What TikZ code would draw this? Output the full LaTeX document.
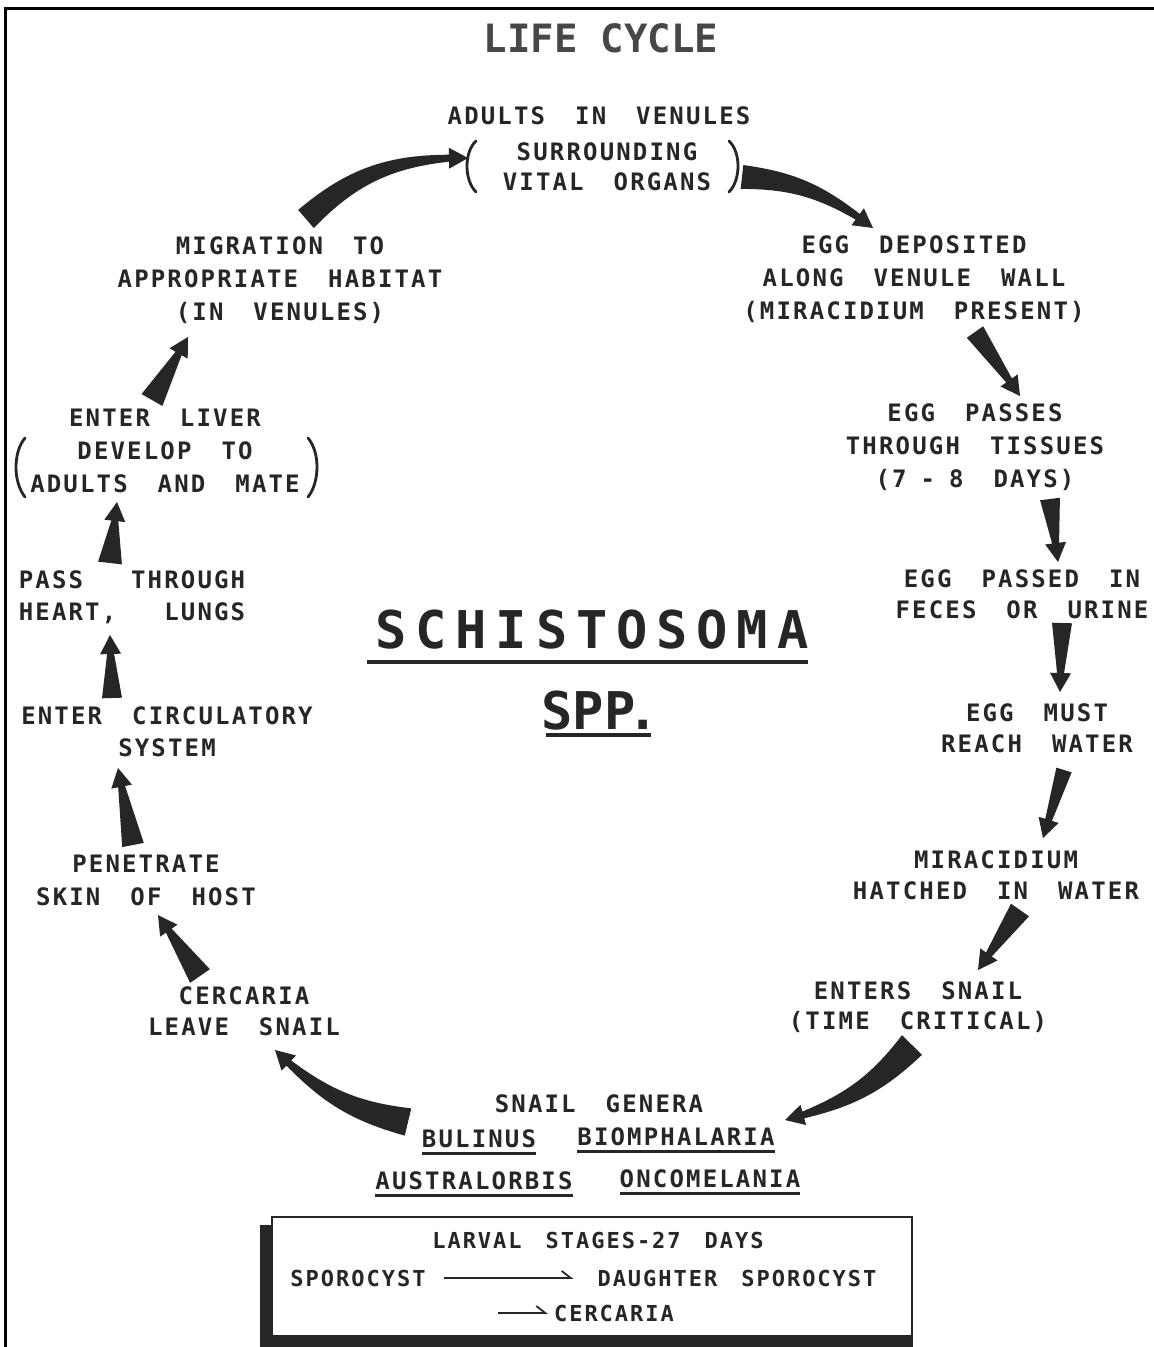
\documentclass[tikz,border=0pt]{standalone}
\usepackage{fontspec}
\usetikzlibrary{calc,arrows.meta}
\newfontfamily\lblfont[LetterSpace=9]{DejaVu Sans Mono}
\newfontfamily\titlefont{DejaVu Sans Mono}
\newfontfamily\bigfont[LetterSpace=17]{DejaVu Sans Mono}
\definecolor{ink}{HTML}{262626}
\tikzset{
  lbl/.style={align=center, inner sep=0pt, text=ink,
    font={\lblfont\bfseries\fontsize{24}{#1}\selectfont\spaceskip=30pt\relax}},
  lbl/.default=32,
  boxlbl/.style={inner sep=0pt, text=ink,
    font={\lblfont\bfseries\fontsize{22}{28}\selectfont\spaceskip=24pt\relax}},
  titlelbl/.style={inner sep=0pt, text=ink!85, font={\titlefont\bfseries\fontsize{39}{44}\selectfont}},
  biglbl/.style={inner sep=0pt, text=ink, font={\bigfont\bfseries\fontsize{52}{60}\selectfont}},
  spplbl/.style={inner sep=0pt, text=ink, font={\titlefont\bfseries\fontsize{52}{60}\selectfont}},
  uline/.style={draw=ink, line width=3pt},
  paren/.style={draw=ink, line width=2.8pt, line cap=round},
  harp/.style={draw=ink, line width=1.8pt, -{Straight Barb[harpoon,length=9pt,width=14pt]}},
}
\newcommand\fatarrow[4][0]{%
  \pgfmathsetmacro\faL{#1+90}%
  \pgfmathsetmacro\faR{#1-90}%
  \pgfmathsetmacro\faB{-#1}%
  \coordinate (fan) at ($(#3)!19pt!\faB:(#2)$);
  \fill[ink] ($(#2)!#4pt!\faL:(#3)$) to[bend left=#1] ($(fan)!3.5pt!90:(#3)$)
     -- ($(fan)!10.5pt!90:(#3)$) -- (#3) -- ($(fan)!10.5pt!-90:(#3)$)
     -- ($(fan)!3.5pt!-90:(#3)$) to[bend right=#1] ($(#2)!#4pt!\faR:(#3)$) -- cycle;
}
\begin{document}
\begin{tikzpicture}[x=1pt,y=-1pt]
\useasboundingbox (0,0) rectangle (1154,1347);
\fill[white] (0,0) rectangle (1154,1347);
% frame
\draw[line width=3pt, black] (5.5,1347) -- (5.5,8.5) -- (1154,8.5);

% titles
\node[titlelbl] (title) at (601,38) {LIFE CYCLE};
\node[biglbl] (schisto) at (592,630) {SCHISTOSOMA};
\draw[uline, line width=4pt] (367,662) -- (808,662);
\node[spplbl] (spp) at (600,711) {SPP\kern-8pt.};
\draw[uline, line width=4pt] (546,735) -- (651,735);

% cycle labels
\node[lbl] (adults) at (599,116) {ADULTS IN VENULES};
\node[lbl=30] (organs) at (607,167) {SURROUNDING\\VITAL ORGANS};
\draw[paren] (476,141) .. controls (464,152) and (464,180) .. (476,192);
\draw[paren] (729,141) .. controls (741,152) and (741,180) .. (729,192);
\node[lbl=33] (deposit) at (914,279) {EGG DEPOSITED\\ALONG VENULE WALL\\(MIRACIDIUM PRESENT)};
\node[lbl=33] (tissues) at (975,447) {EGG PASSES\\THROUGH TISSUES\\(7\hspace{14pt}-\hspace{14pt}8 DAYS)};
\node[lbl=31] (feces) at (1022,594) {EGG PASSED IN\\FECES OR URINE};
\node[lbl=31] (water) at (1037,728) {EGG MUST\\REACH WATER};
\node[lbl=31] (hatch) at (996,875) {MIRACIDIUM\\HATCHED IN WATER};
\node[lbl=30] (snail) at (918,1007) {ENTERS SNAIL\\(TIME CRITICAL)};
\node[lbl] (genera) at (599,1104) {SNAIL GENERA};
\node[lbl] (bul) at (479,1139) {BULINUS};
\node[lbl] (bio) at (676,1137) {BIOMPHALARIA};
\node[lbl] (aus) at (474,1181) {AUSTRALORBIS};
\node[lbl] (onc) at (710,1179) {ONCOMELANIA};
\draw[uline] ([yshift=-5pt]bul.south west) -- ([yshift=-5pt]bul.south east);
\draw[uline] ([yshift=-5pt]bio.south west) -- ([yshift=-5pt]bio.south east);
\draw[uline] ([yshift=-5pt]aus.south west) -- ([yshift=-5pt]aus.south east);
\draw[uline] ([yshift=-5pt]onc.south west) -- ([yshift=-5pt]onc.south east);
\node[lbl=31] (leave) at (244,1011) {CERCARIA\\LEAVE SNAIL};
\node[lbl=33] (skin) at (146,880) {PENETRATE\\SKIN OF HOST};
\node[lbl=32] (circ) at (167,732) {ENTER CIRCULATORY\\SYSTEM};
\node[lbl=32, align=left, font={\lblfont\bfseries\fontsize{24}{32}\selectfont\spaceskip=48pt\relax}] (heart) at (132,597) {PASS THROUGH\\HEART, LUNGS};
\node[lbl=33] (liver) at (165,451) {ENTER LIVER\\DEVELOP TO\\ADULTS AND MATE};
\draw[paren] (25,438) .. controls (13,452) and (13,482) .. (25,497);
\draw[paren] (308,438) .. controls (320,452) and (320,482) .. (308,497);
\node[lbl=33] (migr) at (280,280) {MIGRATION TO\\APPROPRIATE HABITAT\\(IN VENULES)};

% arrow end points
\coordinate (t1) at (306,219);  \coordinate (h1) at (468,158);
\coordinate (t2) at (742,177);  \coordinate (h2) at (873,228);
\coordinate (t3) at (975,332);  \coordinate (h3) at (1020,396);
\coordinate (t4) at (1050,499); \coordinate (h4) at (1058,562);
\coordinate (t5) at (1062,623); \coordinate (h5) at (1060,692);
\coordinate (t6) at (1064,770); \coordinate (h6) at (1043,838);
\coordinate (t7) at (1020,910); \coordinate (h7) at (978,970);
\coordinate (t8) at (912,1045); \coordinate (h8) at (785,1120);
\coordinate (t9) at (408,1122); \coordinate (h9) at (275,1050);
\coordinate (t10) at (200,976); \coordinate (h10) at (158,915);
\coordinate (t11) at (133,845); \coordinate (h11) at (118,768);
\coordinate (t12) at (112,698); \coordinate (h12) at (110,635);
\coordinate (t13) at (110,563); \coordinate (h13) at (117,502);
\coordinate (t14) at (152,400); \coordinate (h14) at (188,337);

\fatarrow[20]{t1}{h1}{12}
\fatarrow[15]{t2}{h2}{12}
\fatarrow{t3}{h3}{10}
\fatarrow{t4}{h4}{10}
\fatarrow{t5}{h5}{10}
\fatarrow{t6}{h6}{8}
\fatarrow{t7}{h7}{11}
\fatarrow[15]{t8}{h8}{14}
\fatarrow[15]{t9}{h9}{14}
\fatarrow{t10}{h10}{12}
\fatarrow{t11}{h11}{11}
\fatarrow{t12}{h12}{10}
\fatarrow{t13}{h13}{12}
\fatarrow{t14}{h14}{12}

% larval stages box
\fill[ink] (260,1225) rectangle (273,1347);
\fill[ink] (260,1335) rectangle (913,1347);
\draw[ink, line width=2.5pt] (272,1337) -- (272,1217) -- (912,1217) -- (912,1337);
\node[boxlbl] (larval) at (598,1240) {LARVAL STAGES-27 DAYS};
\node[boxlbl] (spor) at (358,1278) {SPOROCYST};
\node[boxlbl] (daughter) at (737,1278) {DAUGHTER SPOROCYST};
\node[boxlbl] (cerc) at (614,1313) {CERCARIA};
\draw[harp] ([xshift=18pt]spor.east) -- ([xshift=-24pt]daughter.west);
\draw[harp] ([xshift=-56pt]cerc.west) -- ([xshift=-6pt]cerc.west);
\end{tikzpicture}
\end{document}
